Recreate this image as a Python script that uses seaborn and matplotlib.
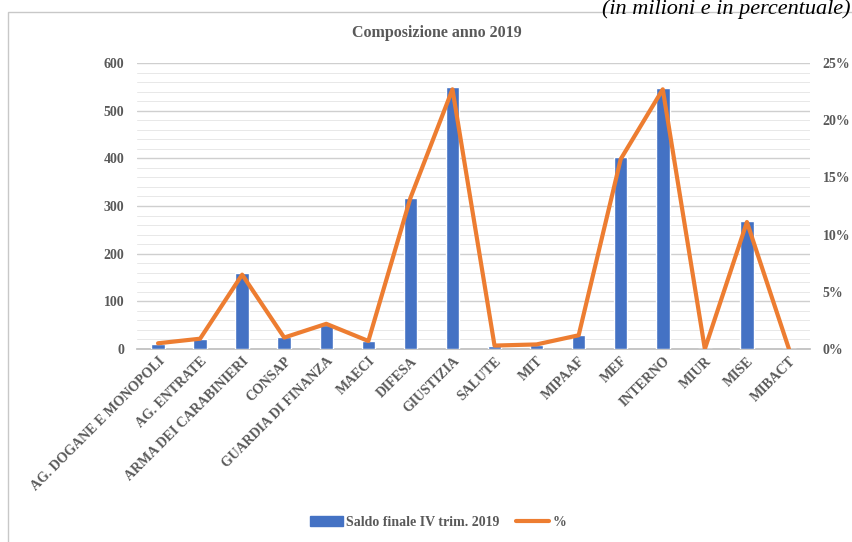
import numpy as np
import pandas as pd
import seaborn as sns
import matplotlib.pyplot as plt
from matplotlib.patches import Rectangle, Patch
from matplotlib.lines import Line2D
from matplotlib.ticker import MultipleLocator, FuncFormatter

# dati
categorie = [
    "AG. DOGANE E MONOPOLI", "AG. ENTRATE", "ARMA DEI CARABINIERI", "CONSAP",
    "GUARDIA DI FINANZA", "MAECI", "DIFESA", "GIUSTIZIA", "SALUTE", "MIT",
    "MIPAAF", "MEF", "INTERNO", "MIUR", "MISE", "MIBACT",
]
saldo = [11, 22, 159, 25, 50, 17, 317, 550, 6, 9, 29, 403, 548, 0, 269, 0]
percentuale = [0.5, 0.9, 6.5, 1.0, 2.2, 0.7, 13.2, 22.7, 0.3, 0.4, 1.2, 16.6, 22.7, 0.0, 11.1, 0.0]

BLU = "#4472C4"
ARANCIO = "#ED7D31"
GRIGIO = "#595959"

df = pd.DataFrame({"cat": categorie, "saldo": saldo, "pct": percentuale})
df["pos"] = np.arange(len(df))

sns.set_theme(style="white")
plt.rcParams["font.family"] = ["Liberation Serif", "DejaVu Serif"]

fig = plt.figure(figsize=(8.52, 5.42), dpi=100)
ax = fig.add_axes([137 / 852, 1 - 349 / 542, 673 / 852, 286 / 542])

# barre (asse sinistro)
sns.barplot(data=df, x="cat", y="saldo", color=BLU, width=0.32,
            saturation=1, ax=ax, zorder=3)
ax.set_ylim(0, 600)
ax.set_xlim(-0.5, len(df) - 0.5)
ax.yaxis.set_major_locator(MultipleLocator(100))
ax.yaxis.set_minor_locator(MultipleLocator(20))
ax.grid(which="major", axis="y", color="#cfcfcf", linewidth=1.0, zorder=0)
ax.grid(which="minor", axis="y", color="#e8e8e8", linewidth=0.7, zorder=0)
ax.set_xlabel("")
ax.set_ylabel("")
for s in ax.spines.values():
    s.set_visible(False)
ax.spines["bottom"].set_visible(True)
ax.spines["bottom"].set_color("#bfbfbf")
ax.tick_params(axis="y", which="both", length=0, labelsize=10, labelcolor=GRIGIO, pad=9)
ax.tick_params(axis="x", length=0, labelsize=10, labelcolor=GRIGIO, pad=4)
ax.set_xticks(df["pos"])
ax.set_xticklabels(categorie, rotation=45, ha="right", rotation_mode="anchor",
                   fontweight="bold")
for t in ax.get_yticklabels():
    t.set_fontweight("bold")

# linea percentuale (asse destro)
ax2 = ax.twinx()
sns.lineplot(data=df, x="pos", y="pct", sort=False, color=ARANCIO, linewidth=3,
             ax=ax2, zorder=4)
ax2.set_ylim(0, 25)
ax2.yaxis.set_major_locator(MultipleLocator(5))
ax2.yaxis.set_major_formatter(FuncFormatter(lambda v, p: f"{v:.0f}%"))
ax2.set_ylabel("")
ax2.set_xlabel("")
ax2.grid(False)
for s in ax2.spines.values():
    s.set_visible(False)
ax2.tick_params(axis="y", length=0, labelsize=10, labelcolor=GRIGIO, pad=9)
for t in ax2.get_yticklabels():
    t.set_fontweight("bold")

# cornice del grafico
fig.patches.append(Rectangle((8 / 852, -0.05), 1.0, 1 - 12 / 542 + 0.05,
                             transform=fig.transFigure, fill=False,
                             edgecolor="#c8c8c8", linewidth=1.0))

fig.text(437 / 852, 1 - 33 / 542, "Composizione anno 2019", ha="center",
         va="center", fontsize=11.5, fontweight="bold", color=GRIGIO)
fig.text(851 / 852, 1 - 14 / 542, "(in milioni e in percentuale)", ha="right",
         va="baseline", fontsize=16, style="italic", color="black")

handles = [Patch(facecolor=BLU, edgecolor=BLU),
           Line2D([0], [0], color=ARANCIO, linewidth=3)]
fig.legend(handles, ["Saldo finale IV trim. 2019", "%"], loc="center",
           bbox_to_anchor=(438 / 852, 1 - 522 / 542), ncol=2, frameon=False,
           prop={"size": 10, "weight": "bold"}, handlelength=2.4,
           handletextpad=0.2, columnspacing=1.2, labelcolor=GRIGIO)

fig.savefig("out.png", dpi=100)
